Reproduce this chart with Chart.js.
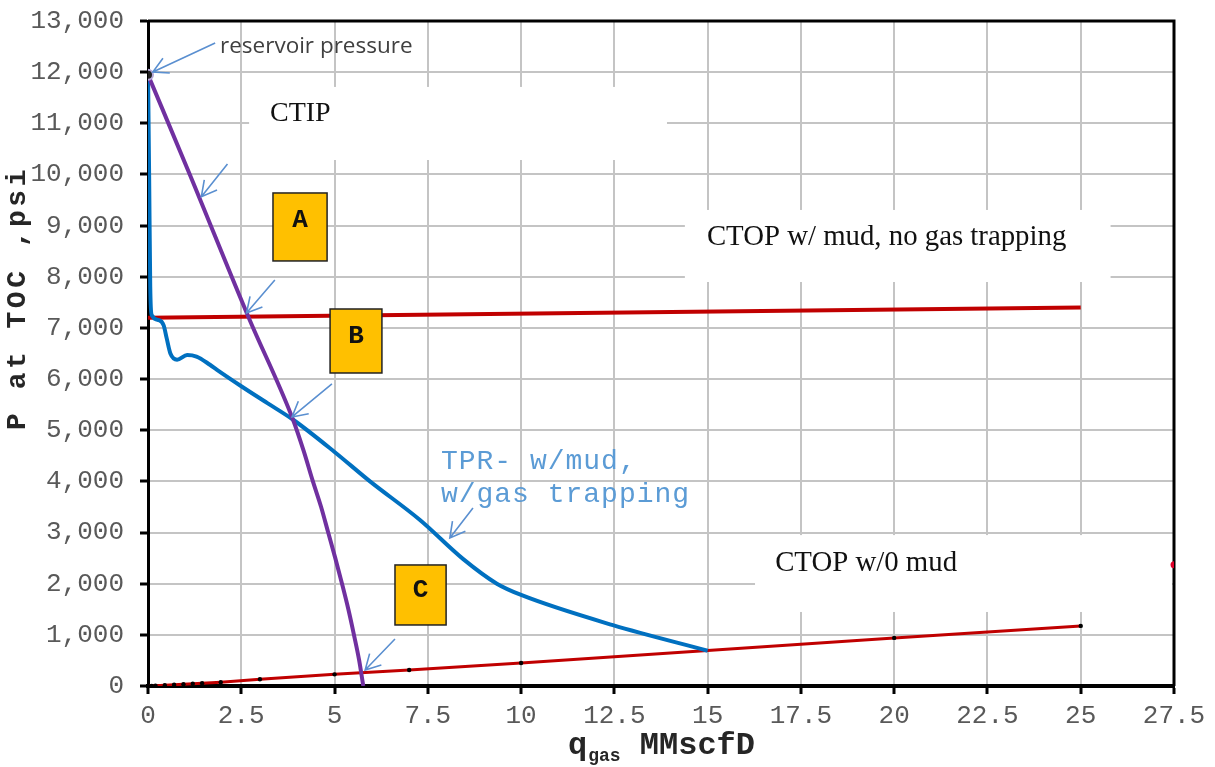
<!DOCTYPE html>
<html>
<head>
<meta charset="utf-8">
<script src="https://cdn.jsdelivr.net/npm/chart.js@4.4.1/dist/chart.umd.min.js"></script>
<style>
  html, body { margin: 0; padding: 0; background: #fff; }
  #wrap { width: 1215px; height: 767px; position: relative; }
</style>
</head>
<body>
<div id="wrap"><canvas id="chart" width="1215" height="767"></canvas></div>
<script>
// Axis ticks
const xTicks = [0, 2.5, 5, 7.5, 10, 12.5, 15, 17.5, 20, 22.5, 25, 27.5];
const yTicks = [0, 1000, 2000, 3000, 4000, 5000, 6000, 7000, 8000, 9000, 10000, 11000, 12000, 13000];

// CTIP (inflow performance) curve
const ctipQ = [0, 1.12, 2.7, 3.89, 4.17, 4.42, 4.64, 4.83, 5.02, 5.2, 5.37, 5.52, 5.66, 5.77];
const ctipP = [11950, 10000, 7200, 5200, 4600, 4000, 3500, 3000, 2500, 2000, 1500, 1000, 500, 0];

// TPR with mud and gas trapping
const tprQ = [0, 0.03, 0.06, 0.1, 0.3, 0.42, 0.5, 0.6, 0.78, 1.05, 1.3, 1.66, 1.85, 2.5, 3.2, 3.9, 5.0, 5.95, 7.29, 8.45, 9.35, 10, 12.46, 15];
const tprP = [12000, 10000, 7800, 7250, 7150, 7050, 6800, 6500, 6380, 6470, 6440, 6280, 6180, 5860, 5530, 5200, 4575, 4000, 3245, 2480, 2000, 1780, 1190, 690];

// CTOP with mud, no gas trapping
const ctopMudQ = [0, 25];
const ctopMudP = [7200, 7400];

// CTOP without mud
const ctopDryQ = [0, 0.1, 0.2, 0.45, 0.7, 0.95, 1.2, 1.45, 1.95, 3, 5, 7, 10, 20, 25];
const ctopDryP = [0, 3, 6, 15, 25, 35, 45, 55, 75, 131, 228, 313, 450, 940, 1175];

// Reservoir pressure point and the stray point on the right border
const reservoirQ = [0];
const reservoirP = [11950];
const edgeQ = [27.5];
const edgeP = [2370];

const MONO = "'Liberation Mono', 'Courier New', monospace";
const SERIF = "'Liberation Serif', 'Times New Roman', serif";
const SANS = "'Open Sans', 'Noto Sans', sans-serif";

const pts = (xs, ys) => xs.map((x, i) => ({ x: x, y: ys[i] }));
const withCommas = v => String(v).replace(/\B(?=(\d{3})+(?!\d))/g, ',');

// Annotation layout (data units)
const blankPanels = [
  { x0: 2.71, x1: 13.91, y0: 10283, y1: 11711 },
  { x0: 14.39, x1: 25.8, y0: 7898, y1: 9306 },
  { x0: 16.27, x1: 27.5, y0: 1447, y1: 2950 }
];
const notes = [
  { text: 'reservoir pressure', x: 1.93, y: 12492, font: '22.5px ' + SANS, color: '#404040', spacing: '0px' },
  { text: 'CTIP', x: 3.27, y: 11183, font: '28px ' + SERIF, color: '#111', spacing: '0px' },
  { text: 'CTOP w/ mud, no gas trapping', x: 14.98, y: 8778, font: '28.8px ' + SERIF, color: '#111', spacing: '0px' },
  { text: 'CTOP w/0 mud', x: 16.81, y: 2405, font: '28.8px ' + SERIF, color: '#111', spacing: '0px' },
  { text: 'TPR- w/mud,', x: 7.85, y: 4379, font: '28px ' + MONO, color: '#5b9bd5', spacing: '1px' },
  { text: 'w/gas trapping', x: 7.85, y: 3734, font: '28px ' + MONO, color: '#5b9bd5', spacing: '1px' }
];
const tags = [
  { text: 'A', x0: 3.35, x1: 4.80, y0: 8309, y1: 9638, ty: 9100 },
  { text: 'B', x0: 4.88, x1: 6.27, y0: 6119, y1: 7370, ty: 6840 },
  { text: 'C', x0: 6.62, x1: 7.99, y0: 1193, y1: 2366, ty: 1870 }
];
const pointers = [
  [1.80, 12570, 0.13, 12004],
  [2.13, 10205, 1.43, 9566],
  [3.40, 7937, 2.64, 7292],
  [4.93, 5904, 3.86, 5259],
  [6.62, 919, 5.82, 313],
  [8.71, 3480, 8.09, 2893]
];

function drawArrow(ctx, x1, y1, x2, y2) {
  const a = Math.atan2(y2 - y1, x2 - x1), L = 17, w = 0.5;
  ctx.beginPath();
  ctx.moveTo(x1, y1);
  ctx.lineTo(x2, y2);
  ctx.moveTo(x2 - L * Math.cos(a - w), y2 - L * Math.sin(a - w));
  ctx.lineTo(x2, y2);
  ctx.lineTo(x2 - L * Math.cos(a + w), y2 - L * Math.sin(a + w));
  ctx.stroke();
}

const annotations = {
  id: 'annotations',
  beforeDatasetsDraw(chart) {
    const ctx = chart.ctx, xs = chart.scales.x, ys = chart.scales.y, ca = chart.chartArea;
    ctx.save();
    // white panels behind the text labels
    ctx.fillStyle = '#fff';
    blankPanels.forEach(b => {
      const l = xs.getPixelForValue(b.x0), r = xs.getPixelForValue(b.x1);
      const t = ys.getPixelForValue(b.y1), btm = ys.getPixelForValue(b.y0);
      ctx.fillRect(l, t, Math.min(r, ca.right - 2) - l, btm - t);
    });
    // top and right frame
    ctx.strokeStyle = '#000';
    ctx.lineWidth = 3;
    ctx.beginPath();
    ctx.moveTo(ca.left, ca.top);
    ctx.lineTo(ca.right, ca.top);
    ctx.lineTo(ca.right, ca.bottom);
    ctx.stroke();
    ctx.restore();
  },
  afterDatasetsDraw(chart) {
    const ctx = chart.ctx, xs = chart.scales.x, ys = chart.scales.y, ca = chart.chartArea;
    ctx.save();
    // A / B / C tags
    tags.forEach(g => {
      const l = xs.getPixelForValue(g.x0), r = xs.getPixelForValue(g.x1);
      const t = ys.getPixelForValue(g.y1), btm = ys.getPixelForValue(g.y0);
      ctx.fillStyle = '#ffc000';
      ctx.fillRect(l, t, r - l, btm - t);
      ctx.strokeStyle = '#222';
      ctx.lineWidth = 1.5;
      ctx.strokeRect(l, t, r - l, btm - t);
      ctx.fillStyle = '#111';
      ctx.font = 'bold 26px ' + MONO;
      ctx.textAlign = 'center';
      ctx.textBaseline = 'middle';
      ctx.fillText(g.text, (l + r) / 2, ys.getPixelForValue(g.ty));
    });
    // text labels
    notes.forEach(n => {
      ctx.font = n.font;
      ctx.letterSpacing = n.spacing;
      ctx.fillStyle = n.color;
      ctx.textAlign = 'left';
      ctx.textBaseline = 'middle';
      ctx.fillText(n.text, xs.getPixelForValue(n.x), ys.getPixelForValue(n.y));
    });
    ctx.letterSpacing = '0px';
    // pointer arrows
    ctx.strokeStyle = '#5a8fd0';
    ctx.lineWidth = 1.6;
    pointers.forEach(p => drawArrow(ctx,
      xs.getPixelForValue(p[0]), ys.getPixelForValue(p[1]),
      xs.getPixelForValue(p[2]), ys.getPixelForValue(p[3])));

    // axis titles
    ctx.fillStyle = '#262626';
    ctx.textBaseline = 'alphabetic';
    ctx.textAlign = 'left';
    const cx = (ca.left + ca.right) / 2;
    ctx.font = 'bold 32px ' + MONO;
    const wq = ctx.measureText('q').width;
    const wRest = ctx.measureText(' MMscfD').width;
    ctx.font = 'bold 18px ' + MONO;
    const wSub = ctx.measureText('gas').width;
    const x0 = cx - (wq + wSub + wRest) / 2;
    ctx.font = 'bold 32px ' + MONO;
    ctx.fillText('q', x0, 754);
    ctx.font = 'bold 18px ' + MONO;
    ctx.fillText('gas', x0 + wq + 1, 761);
    ctx.font = 'bold 32px ' + MONO;
    ctx.fillText(' MMscfD', x0 + wq + wSub + 1, 754);

    ctx.translate(18, 298);
    ctx.rotate(-Math.PI / 2);
    ctx.textAlign = 'center';
    ctx.textBaseline = 'middle';
    ctx.font = 'bold 28px ' + MONO;
    ctx.letterSpacing = '3.5px';
    ctx.fillText('P at TOC ,psi', 0, 0);
    ctx.restore();
  }
};

new Chart(document.getElementById('chart'), {
  type: 'line',
  data: {
    datasets: [
      { label: 'CTIP', data: pts(ctipQ, ctipP), borderColor: '#7030a0', borderWidth: 4,
        pointRadius: 0, cubicInterpolationMode: 'monotone', order: 0 },
      { label: 'TPR w/mud, w/gas trapping', data: pts(tprQ, tprP), borderColor: '#0070c0', borderWidth: 4,
        pointRadius: 0, cubicInterpolationMode: 'monotone', order: 1 },
      { label: 'CTOP w/ mud, no gas trapping', data: pts(ctopMudQ, ctopMudP), borderColor: '#c00000', borderWidth: 4,
        pointRadius: 0, order: 2 },
      { label: 'CTOP w/0 mud', data: pts(ctopDryQ, ctopDryP), borderColor: '#c00000', borderWidth: 3,
        pointRadius: 2.2, pointBackgroundColor: '#000', pointBorderWidth: 0, order: 3 },
      { label: 'reservoir pressure', data: pts(reservoirQ, reservoirP), showLine: false,
        pointRadius: 5, pointBackgroundColor: '#222', pointBorderColor: '#b4a7d6', pointBorderWidth: 2, order: -1 },
      { label: 'edge', data: pts(edgeQ, edgeP), showLine: false, clip: 0,
        pointRadius: 3.5, pointBackgroundColor: '#e0002a', pointBorderWidth: 0, order: 4 }
    ]
  },
  options: {
    responsive: false,
    animation: false,
    layout: { padding: { top: 21, right: 41, left: 0, bottom: 0 } },
    plugins: { legend: { display: false }, tooltip: { enabled: false } },
    scales: {
      x: {
        type: 'linear', min: 0, max: 27.5,
        afterBuildTicks: s => { s.ticks = xTicks.map(v => ({ value: v })); },
        afterFit: s => { s.height = 81; s.paddingLeft = 0; s.paddingRight = 0; },
        grid: { color: '#c4c4c4', lineWidth: 2, tickColor: '#000', tickWidth: 3, tickLength: 8 },
        border: { color: '#000', width: 4 },
        ticks: { color: '#595959', font: { family: MONO, size: 26 }, padding: 7,
                 maxRotation: 0, autoSkip: false, callback: v => String(v) }
      },
      y: {
        type: 'linear', min: 0, max: 13000,
        afterBuildTicks: s => { s.ticks = yTicks.map(v => ({ value: v })); },
        afterFit: s => { s.width = 148; s.paddingTop = 0; s.paddingBottom = 0; },
        grid: { color: '#c4c4c4', lineWidth: 2, tickColor: '#000', tickWidth: 3, tickLength: 8 },
        border: { color: '#000', width: 3 },
        ticks: { color: '#595959', font: { family: MONO, size: 26 }, padding: 16,
                 autoSkip: false, callback: v => withCommas(v) }
      }
    }
  },
  plugins: [annotations]
});
</script>
</body>
</html>
